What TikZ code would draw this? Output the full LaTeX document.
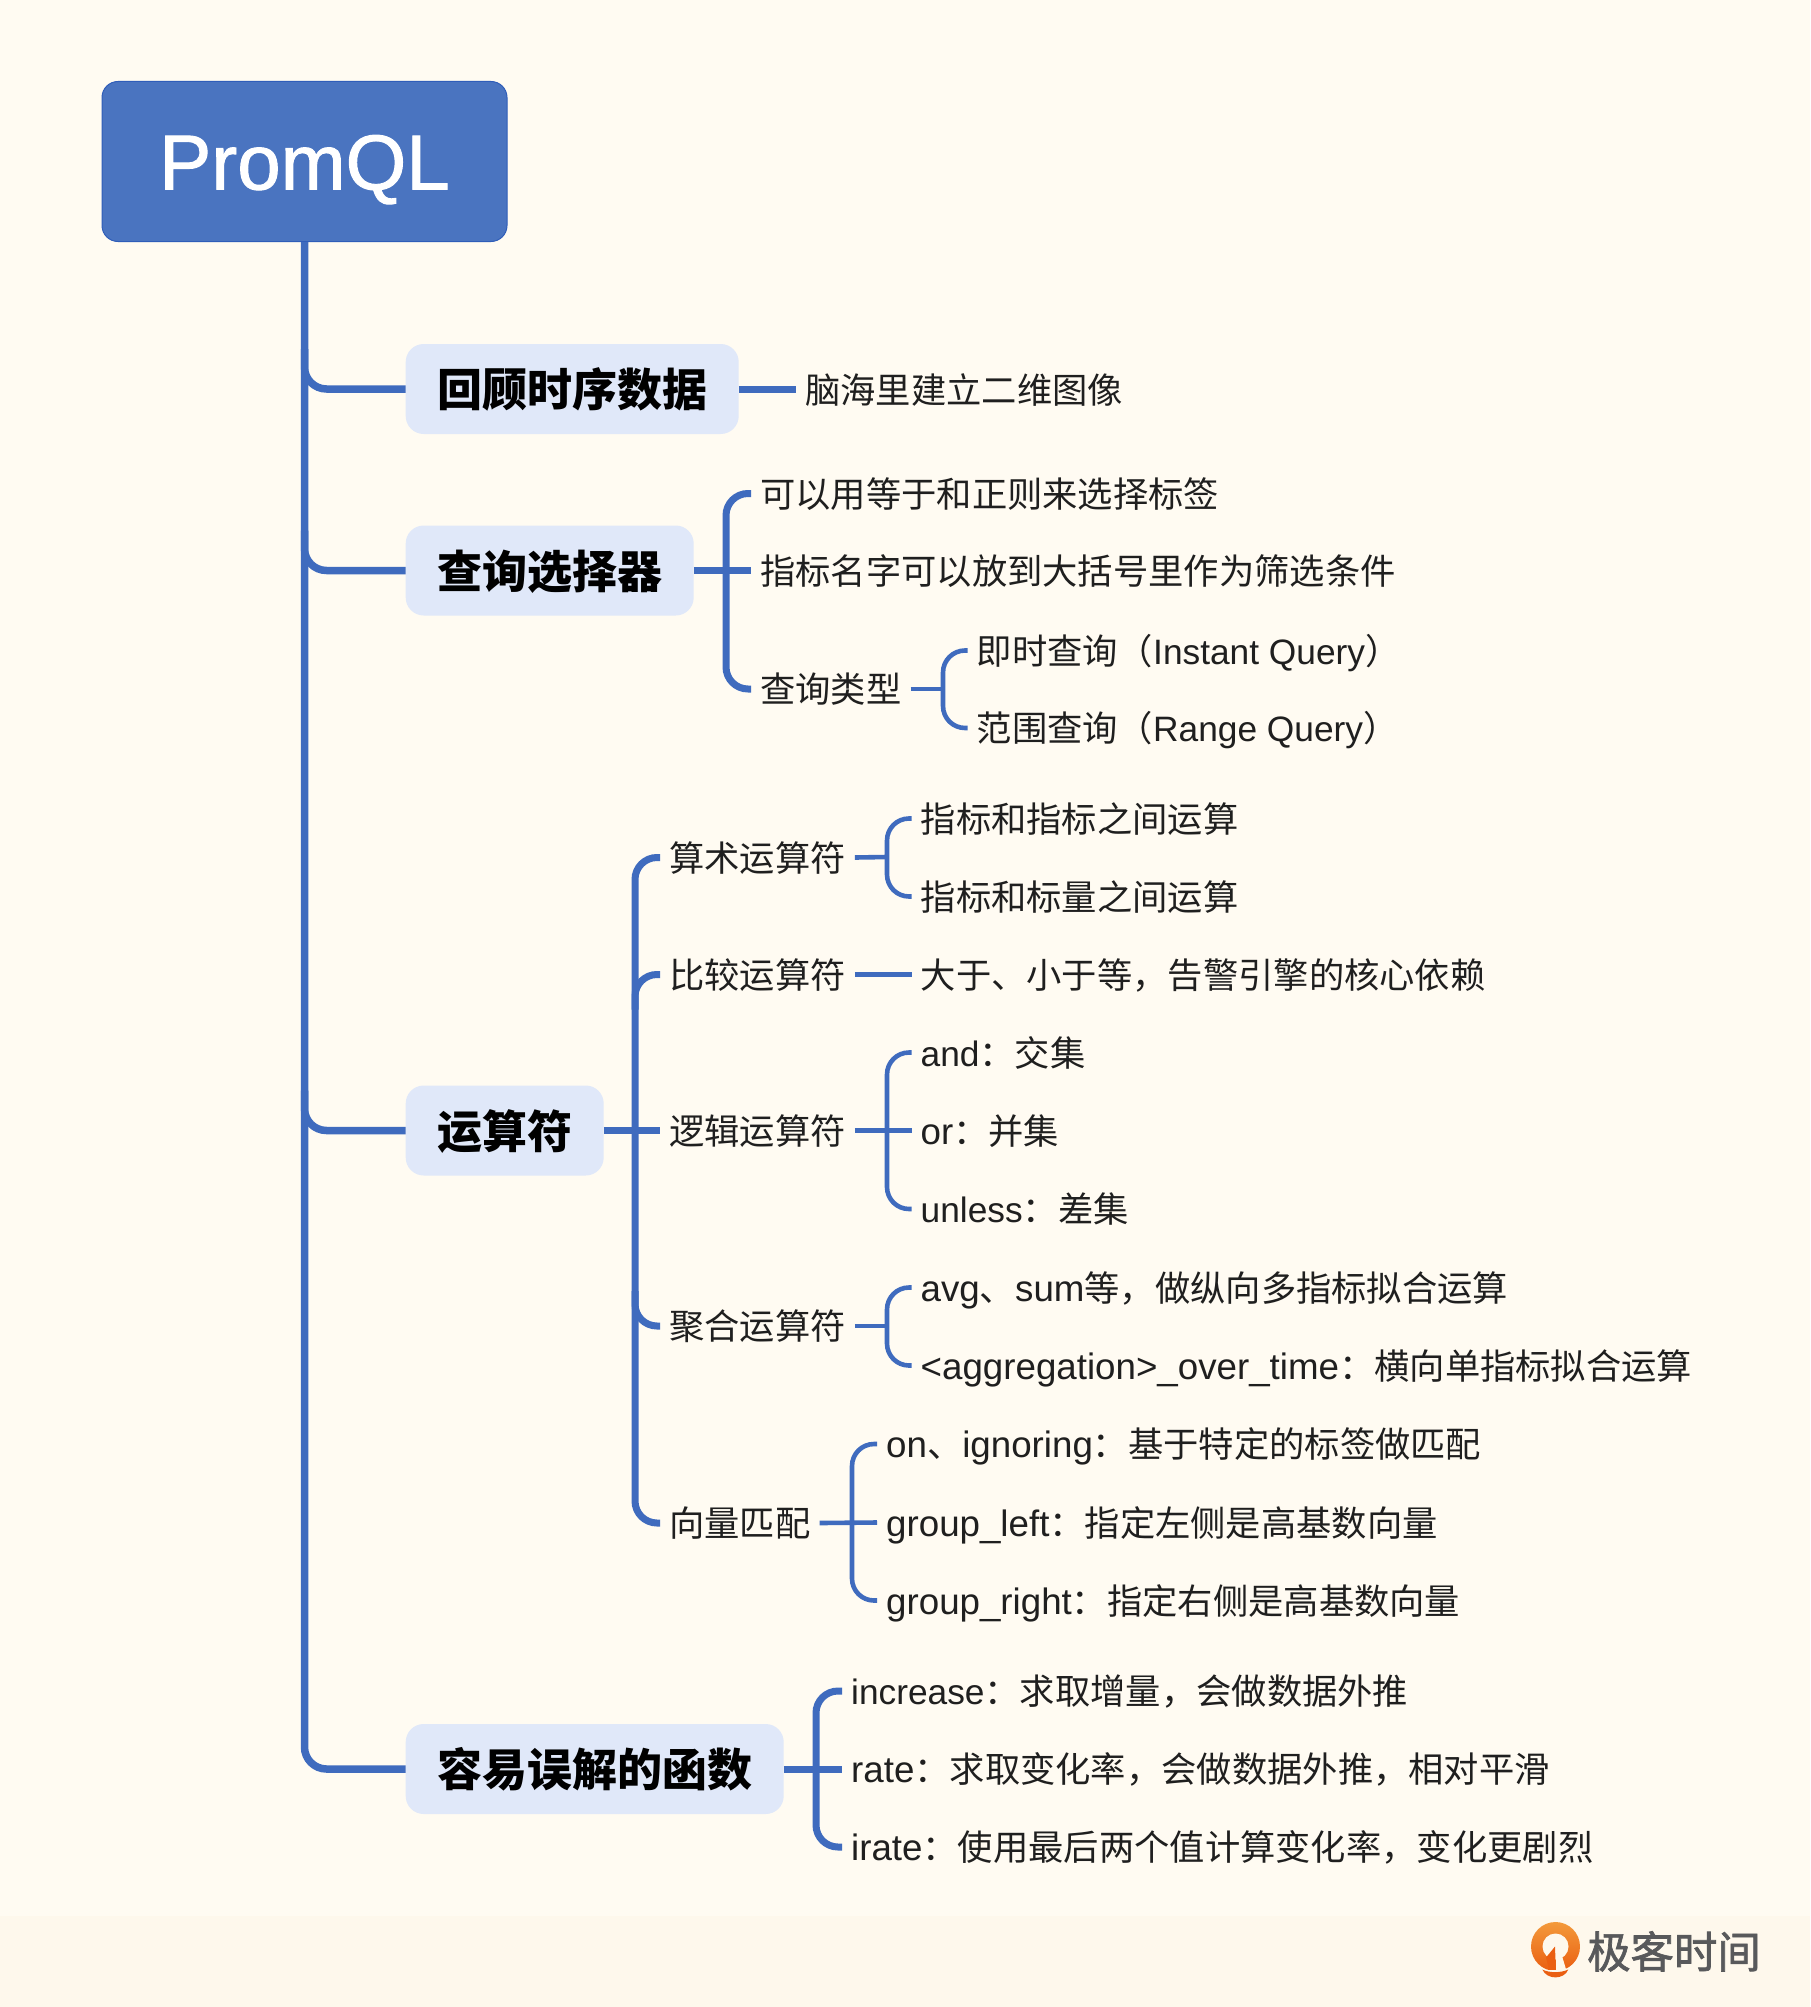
\documentclass[tikz,border=0pt]{standalone}
\usepackage{fontspec}
\setmainfont{Noto Sans CJK SC}
\newfontfamily\latfont[Scale=1.04]{Liberation Sans}
\newfontfamily\latplain{Liberation Sans}
\newfontfamily\rootfont[FakeBold=1.2]{Liberation Sans}
\newfontfamily\brandfont[FakeBold=1.6]{Noto Sans CJK SC}
\newcommand{\lat}[1]{{\latfont #1}}
\newcommand{\latp}[1]{{\latplain #1}}
\usetikzlibrary{calc}
\definecolor{pagebg}{HTML}{FFFBF2}
\definecolor{footbg}{HTML}{FEF8EC}
\definecolor{linkblue}{HTML}{3F6BBE}
\definecolor{rootfill}{HTML}{4A74C0}
\definecolor{rootedge}{HTML}{2F5DB9}
\definecolor{topicfill}{HTML}{E0E8F9}
\definecolor{inkdark}{HTML}{1F1F1F}
\definecolor{logotext}{HTML}{58595B}
\definecolor{logotop}{HTML}{F39A3B}
\definecolor{logobottom}{HTML}{EA5F12}
\tikzset{
  x=1pt,y=-1pt,
  rootbox/.style={draw=rootedge,line width=1pt,fill=rootfill,rounded corners=16pt,text=white,minimum width=405pt,minimum height=160pt,inner sep=0pt,text height=56pt,text depth=0pt,font=\rootfont\fontsize{78}{80}\selectfont},
  topic/.style={anchor=west,fill=topicfill,rounded corners=18pt,minimum height=90pt,inner xsep=31.5pt,inner ysep=0pt,text height=40pt,text depth=5pt,text=black,font=\bfseries\fontsize{45}{50}\selectfont},
  leaf/.style={anchor=west,inner xsep=9pt,inner ysep=0pt,text height=31pt,text depth=4pt,text=inkdark,font=\fontsize{35.3}{40}\selectfont},
  trunkline/.style={draw=linkblue,line width=7.5pt},
  midline/.style={draw=linkblue,line width=7pt},
  fineline/.style={draw=linkblue,line width=4.6pt},
  softcorner/.style={rounded corners=22pt},
}
% branch leaving a vertical bus: #1 style, #2 bus coordinate, #3 target node, #4 vertical run
\newcommand{\busbranch}[4]{\draw[#1,softcorner] ($(#2 |- #3.west)+(0,#4)$) -- (#2 |- #3.west) -- (#3.west);}
% bracket over a first and last child, with a straight stem through the parent
\newcommand{\bracket}[4]{\draw[#1,softcorner] (#3.west) -- (#2 |- #3.west) -- (#2 |- #4.west) -- (#4.west);}
\begin{document}
\begin{tikzpicture}
\useasboundingbox (0,0) rectangle (1810,2007);
\fill[pagebg] (0,0) rectangle (1810,2007);
\fill[footbg] (0,1916) rectangle (1810,2007);

% root and main trunk
\node[rootbox] (root) at (304.5,161.5) {PromQL};
\coordinate (trunk) at (304.5,242);

% first-level topics
\node[topic] (t1) at (405.5,389) {回顾时序数据};
\node[topic] (t2) at (405.5,570.5) {查询选择器};
\node[topic] (t3) at (405.5,1130.5) {运算符};
\node[topic] (t4) at (405.5,1769) {容易误解的函数};

\draw[trunkline,softcorner] (root.south) -- (trunk |- t4.west) -- (t4.west);
\busbranch{trunkline}{trunk}{t1}{-40}
\busbranch{trunkline}{trunk}{t2}{-40}
\busbranch{trunkline}{trunk}{t3}{-40}

% recap topic
\node[leaf] (a1) at (796,390) {脑海里建立二维图像};
\draw[midline] (t1.east) -- (a1.west |- t1.east);

% selectors
\coordinate (busb) at (726,570);
\node[leaf] (b1) at (751,493.5) {可以用等于和正则来选择标签};
\node[leaf] (b2) at (751,570.5) {指标名字可以放到大括号里作为筛选条件};
\node[leaf] (b3) at (751,689) {查询类型};
\bracket{midline}{busb}{b1}{b3}
\draw[midline] (t2.east) -- (b2.west);
\coordinate (busc) at (943,689);
\node[leaf] (c1) at (967.5,650.5) {即时查询（\latp{Instant Query}）};
\node[leaf] (c2) at (967.5,728) {范围查询（\latp{Range Query}）};
\bracket{fineline}{busc}{c1}{c2}
\draw[fineline] (b3.east) -- (busc);

% operators
\coordinate (busd) at (635,1130);
\node[leaf] (d1) at (660,857.5) {算术运算符};
\node[leaf] (d2) at (660,974.5) {比较运算符};
\node[leaf] (d3) at (660,1130.5) {逻辑运算符};
\node[leaf] (d4) at (660,1326) {聚合运算符};
\node[leaf] (d5) at (660,1523) {向量匹配};
\bracket{midline}{busd}{d1}{d5}
\busbranch{midline}{busd}{d2}{35}
\busbranch{midline}{busd}{d4}{-35}
\draw[midline] (t3.east) -- (d3.west);

\coordinate (buse) at (887,857);
\node[leaf] (e1) at (911.5,818.5) {指标和指标之间运算};
\node[leaf] (e2) at (911.5,896.5) {指标和标量之间运算};
\bracket{fineline}{buse}{e1}{e2}
\draw[fineline] (d1.east) -- (buse);

\node[leaf] (f1) at (911.5,974.5) {大于、小于等，告警引擎的核心依赖};
\draw[fineline] (d2.east) -- (f1.west);

\coordinate (busg) at (887,1130);
\node[leaf] (g1) at (911.5,1052.5) {\latp{and}：交集};
\node[leaf] (g2) at (911.5,1130.5) {\lat{or}：并集};
\node[leaf] (g3) at (911.5,1209) {\latp{unless}：差集};
\bracket{fineline}{busg}{g1}{g3}
\draw[fineline] (d3.east) -- (g2.west);

\coordinate (bush) at (887,1326);
\node[leaf] (h1) at (911.5,1287.5) {\lat{avg}、\lat{sum}等，做纵向多指标拟合运算};
\node[leaf] (h2) at (911.5,1365.5) {\lat{<aggregation>\_over\_time}：横向单指标拟合运算};
\bracket{fineline}{bush}{h1}{h2}
\draw[fineline] (d4.east) -- (bush);

\coordinate (busi) at (852,1522);
\node[leaf] (i1) at (877,1444) {\lat{on}、\lat{ignoring}：基于特定的标签做匹配};
\node[leaf] (i2) at (877,1522.5) {\lat{group\_left}：指定左侧是高基数向量};
\node[leaf] (i3) at (877,1600.5) {\lat{group\_right}：指定右侧是高基数向量};
\bracket{fineline}{busi}{i1}{i3}
\draw[fineline] (d5.east) -- (i2.west);

% confusing functions
\coordinate (busj) at (816,1769);
\node[leaf] (j1) at (842,1691) {\latp{increase}：求取增量，会做数据外推};
\node[leaf] (j2) at (842,1769) {\lat{rate}：求取变化率，会做数据外推，相对平滑};
\node[leaf] (j3) at (842,1847) {\lat{irate}：使用最后两个值计算变化率，变化更剧烈};
\bracket{midline}{busj}{j1}{j3}
\draw[midline] (t4.east) -- (j2.west);

% brand mark: ring, upward wedge, opening on the lower right, and smile
\shade[top color=logotop,bottom color=logobottom] (1555.5,1946.5) circle (24.5);
\fill[footbg] (1555.5,1946.5) circle (13);
\fill[footbg] (1556,1945) -- (1556,1972.5) -- (1567,1972.5) -- (1562,1956) -- cycle;
\fill[logobottom] (1555,1946.5) -- (1555.8,1970) -- (1549,1970) -- (1546,1957.5) -- cycle;
\fill[footbg] (1538,1969.6) -- (1572,1969.6) -- (1572,1972.6) -- (1538,1972.6) -- cycle;
\fill[logobottom] (1542.3,1969.5) .. controls (1549,1973) and (1561,1973) .. (1568.3,1969.5) .. controls (1564,1980) and (1547,1980) .. (1542.3,1969.5) -- cycle;
\node[anchor=west,inner sep=0pt,text=logotext,text height=37pt,text depth=5pt,font=\brandfont\fontsize{43.4}{46}\selectfont] (brand) at (1587,1952) {极客时间};
\end{tikzpicture}
\end{document}
